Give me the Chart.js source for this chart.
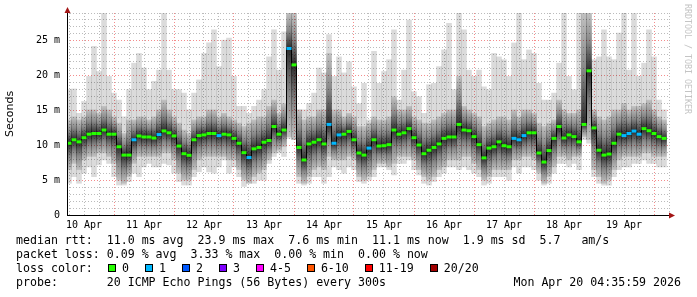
<!DOCTYPE html>
<html>
<head>
<meta charset="utf-8">
<script src="https://cdn.jsdelivr.net/npm/chart.js@4.4.1/dist/chart.umd.min.js"></script>
<style>
  body { margin: 0; background: #fff; }
  #wrap { position: relative; width: 697px; height: 297px; font-family: "DejaVu Sans Mono", monospace; font-size: 11.6px; color: #000; }
  #wrap canvas { position: absolute; left: 0; top: 0; }
  .row { position: absolute; left: 16px; white-space: pre; line-height: 14px; }
  .lc { position: absolute; left: 108px; top: 261px; height: 14px; display: flex; align-items: center; white-space: pre; }
  .sw { display: inline-block; width: 8px; height: 8px; box-sizing: border-box; border: 1px solid #000; margin-right: 6px; }
  .lc .t { margin-right: 16px; }
  #stamp { position: absolute; right: 16px; top: 275px; line-height: 14px; white-space: pre; }
  #credit { position: absolute; left: 683px; top: 4px; writing-mode: vertical-rl; font-size: 8.3px; color: #c4c4c4; white-space: pre; }
</style>
</head>
<body>
<div id="wrap">
  <canvas id="smoke-chart" width="697" height="297"></canvas>
  <div class="row" style="top:233px">median rtt:  11.0 ms avg  23.9 ms max  7.6 ms min  11.1 ms now  1.9 ms sd  5.7   am/s</div>
  <div class="row" style="top:247px">packet loss: 0.09 % avg  3.33 % max  0.00 % min  0.00 % now</div>
  <div class="row" style="top:261px">loss color:</div>
  <div class="lc" id="loss-legend"></div>
  <div class="row" style="top:275px">probe:       20 ICMP Echo Pings (56 Bytes) every 300s</div>
  <div id="stamp">Mon Apr 20 04:35:59 2026</div>
  <div id="credit">RRDTOOL / TOBI OETIKER</div>
</div>
<script>
// hours since Apr 10 00:00, one bin every 2 hours
var hours = [
  6, 8, 10, 12, 14, 16, 18, 20, 22, 24,
  26, 28, 30, 32, 34, 36, 38, 40, 42, 44,
  46, 48, 50, 52, 54, 56, 58, 60, 62, 64,
  66, 68, 70, 72, 74, 76, 78, 80, 82, 84,
  86, 88, 90, 92, 94, 96, 98, 100, 102, 104,
  106, 108, 110, 112, 114, 116, 118, 120, 122, 124,
  126, 128, 130, 132, 134, 136, 138, 140, 142, 144,
  146, 148, 150, 152, 154, 156, 158, 160, 162, 164,
  166, 168, 170, 172, 174, 176, 178, 180, 182, 184,
  186, 188, 190, 192, 194, 196, 198, 200, 202, 204,
  206, 208, 210, 212, 214, 216, 218, 220, 222, 224,
  226, 228, 230, 232, 234, 236, 238, 240, 242, 244
];
var dayLabels = ["10 Apr", "11 Apr", "12 Apr", "13 Apr", "14 Apr", "15 Apr", "16 Apr", "17 Apr", "18 Apr", "19 Apr"];
var yTicks = [0, 5, 10, 15, 20, 25];

// median rtt (ms)
var median = [
  10.3, 10.8, 10.5, 11.1, 11.6, 11.7, 11.7, 12.2, 11.6, 11.6,
  9.8, 8.6, 8.6, 10.8, 11.35, 11.2, 11.2, 11.05, 11.55, 12.07,
  11.8, 11.35, 9.9, 8.8, 8.57, 10.8, 11.4, 11.5, 11.7, 11.7,
  11.4, 11.6, 11.5, 11.0, 10.3, 8.95, 8.25, 9.5, 9.7, 10.45,
  10.7, 12.7, 11.6, 12.2, 23.9, 21.55, 9.7, 7.9, 10.2, 10.45,
  10.8, 10.2, 13.0, 10.3, 11.5, 11.6, 12.0, 10.8, 8.9, 8.6,
  9.6, 10.8, 9.9, 9.95, 10.1, 12.2, 11.6, 11.8, 12.4, 11.1,
  10.05, 8.8, 9.3, 9.7, 10.2, 11.0, 11.2, 11.2, 13.0, 12.2,
  12.1, 11.25, 10.1, 8.2, 9.6, 9.8, 10.5, 9.95, 9.8, 11.0,
  10.8, 11.4, 11.8, 11.8, 8.9, 7.6, 9.25, 11.0, 12.7, 11.05,
  11.5, 11.25, 10.5, 13.0, 20.7, 12.5, 9.3, 8.6, 8.75, 10.3,
  11.6, 11.4, 11.7, 12.05, 11.6, 12.4, 12.1, 11.7, 11.25, 11.0
];
// slowest ping of each bin
var pingMax = [
  18.0, 18.1, 14.6, 16.3, 19.9, 24.2, 20.6, 29.0, 19.9, 17.5,
  16.5, 14.1, 18.0, 21.8, 23.2, 21.1, 18.0, 19.2, 20.8, 29.0,
  20.8, 18.0, 18.0, 17.5, 15.1, 17.5, 19.4, 23.2, 24.7, 26.6,
  21.3, 25.1, 25.4, 19.9, 15.6, 15.6, 14.6, 15.6, 16.5, 18.0,
  22.7, 26.6, 20.8, 26.3, 29.0, 29.0, 15.1, 15.1, 16.0, 17.5,
  21.1, 20.4, 25.9, 19.9, 22.7, 20.4, 22.0, 18.4, 16.0, 18.9,
  13.65, 23.5, 18.9, 20.6, 22.3, 26.6, 16.5, 20.8, 28.0, 17.7,
  17.0, 14.6, 18.7, 18.9, 21.3, 23.7, 27.5, 18.0, 29.0, 26.6,
  20.8, 19.9, 20.8, 18.4, 18.0, 23.2, 22.7, 22.3, 19.9, 24.7,
  29.0, 22.3, 23.7, 23.2, 18.9, 16.5, 16.5, 17.5, 21.8, 29.0,
  19.9, 18.0, 29.0, 29.0, 29.0, 22.3, 22.7, 26.6, 22.7, 22.3,
  26.1, 29.0, 20.8, 29.0, 19.9, 21.8, 26.6, 22.7, 16.5, 15.1
];
// fastest ping of each bin
var pingMin = [
  4.55, 5.5, 4.55, 6.0, 6.9, 5.5, 7.2, 7.9, 7.4, 5.5,
  4.3, 4.3, 4.8, 6.0, 5.5, 6.9, 7.4, 6.9, 6.9, 7.4,
  7.2, 6.0, 4.8, 4.3, 4.3, 5.5, 6.2, 6.9, 6.2, 6.0,
  6.9, 7.9, 6.0, 6.9, 5.5, 4.1, 4.55, 4.55, 5.0, 5.0,
  7.4, 8.4, 8.9, 8.4, 11.0, 10.8, 4.55, 4.3, 4.55, 5.5,
  5.5, 4.55, 5.5, 6.9, 6.5, 6.0, 6.9, 6.5, 4.8, 4.55,
  5.0, 5.5, 6.9, 6.9, 6.5, 5.75, 7.4, 7.4, 7.9, 6.5,
  5.75, 4.55, 4.3, 4.8, 5.5, 6.0, 6.9, 6.9, 6.5, 6.9,
  6.5, 6.0, 5.5, 4.3, 4.55, 5.5, 5.5, 5.5, 5.0, 6.9,
  6.0, 6.9, 6.9, 6.5, 5.0, 4.3, 4.55, 6.0, 7.4, 7.4,
  6.9, 7.4, 6.5, 10.8, 10.3, 5.5, 4.55, 4.3, 4.3, 5.5,
  6.5, 6.9, 6.9, 7.4, 7.4, 7.9, 7.4, 7.4, 6.9, 6.9
];
// edges of the dense smoke
var smokeHigh = [
  13.65, 14.1, 13.65, 14.1, 15.1, 15.1, 14.6, 15.6, 15.1, 14.1,
  13.2, 11.7, 13.65, 13.65, 14.1, 14.1, 13.65, 14.1, 15.1, 16.5,
  15.1, 14.1, 13.2, 12.2, 11.7, 13.65, 14.1, 14.1, 15.1, 15.1,
  14.1, 14.6, 14.1, 13.65, 13.2, 12.7, 13.2, 13.65, 14.1, 14.1,
  15.6, 16.5, 14.6, 16.0, 29.0, 29.0, 15.1, 13.65, 14.1, 14.1,
  15.1, 15.1, 23.2, 15.1, 15.1, 14.1, 14.6, 14.1, 12.7, 12.7,
  13.2, 14.1, 13.65, 13.65, 14.1, 17.0, 15.1, 15.1, 15.6, 14.1,
  13.65, 13.2, 13.2, 13.65, 14.1, 14.6, 15.1, 15.1, 19.9, 15.6,
  15.1, 14.6, 14.1, 12.7, 13.2, 13.65, 14.1, 14.1, 13.65, 15.1,
  14.1, 15.1, 15.1, 14.6, 13.2, 12.7, 13.2, 13.65, 16.5, 15.1,
  14.6, 14.6, 15.1, 29.0, 29.0, 15.1, 14.1, 13.65, 14.1, 15.1,
  15.1, 16.0, 15.1, 15.6, 15.6, 16.0, 16.5, 15.1, 14.1, 13.65
];
var smokeLow = [
  6.5, 7.4, 6.5, 7.9, 8.4, 8.4, 8.9, 8.9, 8.4, 7.4,
  5.0, 4.55, 5.5, 7.4, 8.4, 8.4, 8.4, 8.4, 8.4, 8.9,
  8.9, 7.9, 6.0, 5.0, 5.0, 6.5, 7.9, 8.4, 8.4, 8.4,
  8.4, 8.4, 7.9, 7.9, 6.5, 5.0, 4.55, 5.5, 6.0, 6.5,
  7.9, 8.9, 9.3, 9.8, 11.25, 10.8, 5.5, 4.55, 5.5, 6.5,
  6.9, 6.5, 8.4, 7.9, 7.9, 7.9, 8.4, 7.9, 5.5, 5.0,
  5.5, 6.5, 7.4, 7.4, 6.9, 7.4, 8.4, 8.4, 8.4, 7.9,
  6.5, 5.5, 5.0, 5.5, 6.5, 6.9, 7.9, 7.9, 7.9, 8.4,
  8.4, 7.4, 6.5, 5.0, 5.5, 6.5, 6.5, 6.5, 6.5, 7.9,
  7.9, 8.4, 8.4, 7.9, 6.0, 4.55, 5.5, 6.9, 8.4, 8.4,
  7.9, 8.4, 8.4, 11.25, 10.8, 6.5, 5.5, 4.55, 5.0, 6.5,
  7.9, 8.4, 8.4, 8.4, 8.4, 8.9, 8.9, 8.4, 8.4, 8.4
];
// lost pings per bin
var loss = [
  0, 0, 0, 0, 0, 0, 0, 0, 0, 0,
  0, 0, 0, 1, 0, 0, 0, 0, 1, 0,
  0, 0, 0, 0, 0, 0, 0, 0, 0, 0,
  1, 0, 0, 0, 0, 0, 1, 0, 0, 0,
  0, 0, 0, 0, 1, 0, 0, 0, 0, 0,
  0, 0, 1, 1, 1, 0, 0, 0, 0, 0,
  1, 0, 0, 0, 0, 0, 0, 0, 0, 0,
  0, 0, 0, 0, 0, 0, 0, 0, 0, 0,
  0, 0, 0, 0, 0, 0, 0, 0, 0, 1,
  1, 1, 0, 0, 0, 0, 0, 0, 0, 0,
  0, 0, 0, 0, 0, 0, 0, 0, 0, 0,
  0, 1, 1, 1, 1, 0, 0, 0, 0, 0
];
var lossLabels = ["0", "1", "2", "3", "4-5", "6-10", "11-19", "20/20"];
var lossColors = ["#26ff00", "#00b8ff", "#0059ff", "#7e00ff", "#ff00ff", "#ff5500", "#ff0000", "#a10000"];

// legend boxes
var lc = document.getElementById("loss-legend");
lossLabels.forEach(function (lab, i) {
  var sw = document.createElement("span");
  sw.className = "sw";
  sw.style.background = lossColors[i];
  var t = document.createElement("span");
  t.className = "t";
  t.textContent = lab;
  lc.appendChild(sw);
  lc.appendChild(t);
});

function smokeGradient(ctx) {
  var chart = ctx.chart;
  var i = ctx.dataIndex;
  if (i === undefined || !chart.scales.y) return "#888";
  var ys = chart.scales.y;
  var top = ys.getPixelForValue(smokeHigh[i]);
  var bot = ys.getPixelForValue(smokeLow[i]);
  var mid = ys.getPixelForValue(median[i]);
  if (!isFinite(top) || !isFinite(bot) || bot - top < 1) return "#888";
  var f = (mid - top) / (bot - top);
  f = Math.min(0.95, Math.max(0.05, f));
  var g = chart.ctx.createLinearGradient(0, top, 0, bot);
  g.addColorStop(0, "rgba(0,0,0,0.12)");
  g.addColorStop(f * 0.5, "rgba(0,0,0,0.38)");
  g.addColorStop(f, "rgba(0,0,0,0.8)");
  g.addColorStop(f + (1 - f) * 0.5, "rgba(0,0,0,0.38)");
  g.addColorStop(1, "rgba(0,0,0,0.12)");
  return g;
}

function xGridColor(c) {
  if (!c.tick) return "rgba(0,0,0,0)";
  var v = Math.round(c.tick.value);
  if (Math.abs(c.tick.value - v) > 0.01) return "rgba(0,0,0,0)";
  if (v % 24 === 0) return "rgba(230,0,0,0.45)";
  if (v % 6 === 0) return "rgba(120,120,120,0.5)";
  return "rgba(0,0,0,0)";
}

function yGridColor(c) {
  if (!c.tick) return "rgba(120,120,120,0.5)";
  var v = Math.round(c.tick.value);
  if (yTicks.indexOf(v) >= 0) return "rgba(230,0,0,0.45)";
  return "rgba(120,120,120,0.5)";
}

var axisArrows = {
  id: "axisArrows",
  afterDraw: function (chart) {
    var c = chart.ctx, a = chart.chartArea;
    var x0 = Math.round(a.left) + 0.5, y0 = Math.round(a.bottom) + 0.5;
    c.save();
    c.strokeStyle = "#000";
    c.lineWidth = 1;
    c.setLineDash([]);
    c.beginPath();
    c.moveTo(x0, a.bottom);
    c.lineTo(x0, a.top - 2);
    c.moveTo(a.left, y0);
    c.lineTo(a.right, y0);
    c.stroke();
    c.fillStyle = "#a31515";
    c.beginPath();
    c.moveTo(x0, a.top - 6);
    c.lineTo(x0 - 3, a.top);
    c.lineTo(x0 + 3, a.top);
    c.closePath();
    c.fill();
    c.beginPath();
    c.moveTo(a.right + 5, y0);
    c.lineTo(a.right - 1, y0 - 3);
    c.lineTo(a.right - 1, y0 + 3);
    c.closePath();
    c.fill();
    c.restore();
  }
};

var mono = "DejaVu Sans Mono";

var ctx = document.getElementById("smoke-chart").getContext("2d");
var mySmokeChart = new Chart(ctx, {
  type: "bar",
  data: {
    datasets: [
      {
        type: "line",
        data: hours.map(function (h, i) { return { x: h, y: median[i] }; }),
        stepped: "middle",
        borderColor: "#000",
        borderWidth: 1,
        pointStyle: "line",
        pointRadius: 2.5,
        pointBorderWidth: 3,
        pointBorderColor: loss.map(function (l) { return lossColors[l]; }),
        pointHoverRadius: 2.5,
        order: 1,
      },
      {
        data: hours.map(function (h, i) { return { x: h, y: [smokeLow[i], smokeHigh[i]] }; }),
        backgroundColor: smokeGradient,
        borderWidth: 0,
        grouped: false,
        barPercentage: 1,
        categoryPercentage: 1,
        order: 2,
      },
      {
        data: hours.map(function (h, i) { return { x: h, y: [pingMin[i], pingMax[i]] }; }),
        backgroundColor: "rgba(0,0,0,0.14)",
        borderWidth: 0,
        grouped: false,
        barPercentage: 1,
        categoryPercentage: 1,
        order: 3,
      },
    ],
  },
  options: {
    responsive: false,
    animation: false,
    layout: {
      padding: { left: 0, right: 27, top: 13, bottom: 62 },
    },
    plugins: {
      legend: { display: false },
      tooltip: { enabled: false },
    },
    scales: {
      x: {
        type: "linear",
        offset: false,
        min: 5.2,
        max: 246.4,
        afterFit: function (s) { s.height = 20; },
        border: { display: false, dash: [1, 2] },
        grid: {
          offset: false,
          drawTicks: false,
          lineWidth: 1,
          color: xGridColor,
        },
        ticks: {
          stepSize: 6,
          includeBounds: false,
          autoSkip: false,
          maxRotation: 0,
          maxTicksLimit: 1000,
          padding: 4,
          color: "#000",
          font: { family: mono, size: 10 },
          callback: function (v) {
            var r = Math.round(v);
            if (r % 24 === 12) return dayLabels[(r - 12) / 24] || "";
            return "";
          },
        },
      },
      y: {
        min: 0,
        max: 29,
        afterFit: function (s) { s.width = 67; },
        border: { display: false, dash: [1, 2] },
        grid: {
          drawTicks: false,
          lineWidth: 1,
          color: yGridColor,
        },
        ticks: {
          stepSize: 1,
          autoSkip: false,
          maxTicksLimit: 1000,
          padding: 7,
          color: "#000",
          font: { family: mono, size: 10 },
          callback: function (v) {
            if (yTicks.indexOf(v) < 0) return "";
            return v === 0 ? "0" : v + " m";
          },
        },
        title: {
          display: true,
          text: "Seconds",
          color: "#000",
          font: { family: "DejaVu Sans", size: 11 },
          padding: { top: 4, bottom: 0 },
        },
      },
    },
  },
  plugins: [axisArrows],
});
</script>
</body>
</html>
